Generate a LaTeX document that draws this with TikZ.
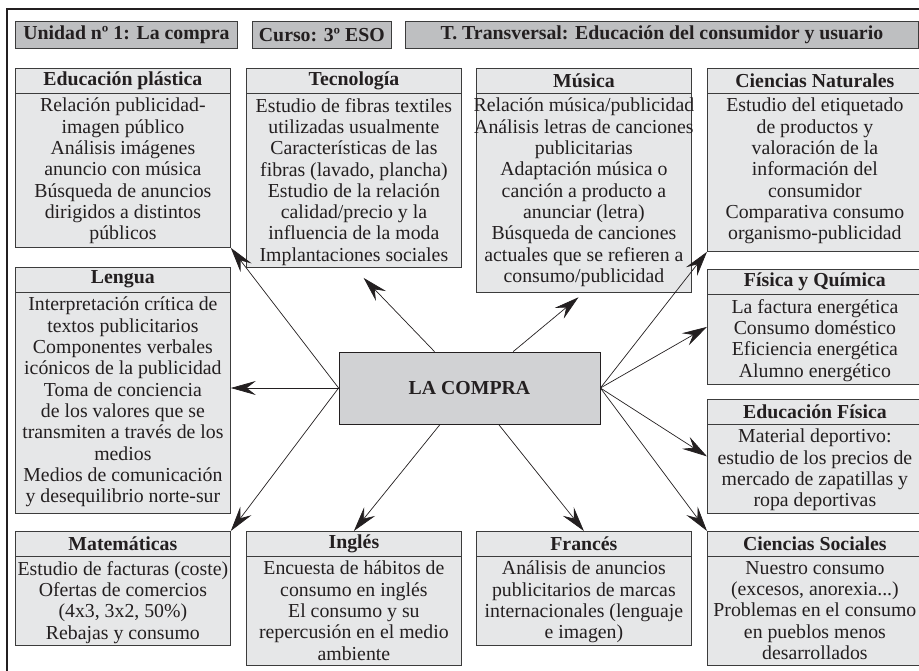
\documentclass[tikz,border=0pt]{standalone}
\usepackage{fontspec}
\setmainfont{Liberation Serif}
\usetikzlibrary{arrows.meta,calc}
\definecolor{ink}{RGB}{35,31,32}
\definecolor{hdrfill}{RGB}{190,191,193}
\definecolor{boxfill}{RGB}{230,231,232}
\definecolor{ctrfill}{RGB}{209,210,212}
\definecolor{edge}{RGB}{60,60,60}
\newcommand\fsz{\fontsize{19.8pt}{21.3pt}\selectfont}
\tikzset{
  frame/.style={draw=ink, line width=1.2pt},
  hdrbox/.style={draw=edge, fill=hdrfill, line width=0.8pt, anchor=north west, inner sep=0pt, font=\bfseries\fsz, text=ink},
  subjbox/.style={draw=edge, fill=boxfill, line width=0.8pt, anchor=north west, inner sep=0pt},
  ttl/.style={font=\bfseries\fsz, inner sep=0pt, text=ink},
  bodytxt/.style={font=\fsz, align=center, inner xsep=0pt, inner ysep=5pt, anchor=north, text=ink},
  ctrbox/.style={draw=ink, fill=ctrfill, line width=0.8pt, inner sep=0pt, font=\bfseries\fsz, text=ink},
  arr/.style={draw=ink, line width=0.7pt, -{Stealth[length=25pt,width=14pt,inset=9pt]}},
}
\newcommand\mkbox[8][]{%
  \node[subjbox, minimum width=#5pt, minimum height=#6pt] (#2) at (#3,#4) {};
  \draw[draw=edge, line width=0.8pt] ([yshift=-25pt]#2.north west) -- ([yshift=-25pt]#2.north east);
  \node[ttl] (#2-t) at ([yshift=-12.5pt]#2.north) {#7};
  \node[bodytxt,#1] (#2-b) at ([yshift=-25pt]#2.north) {#8};
}
\begin{document}
\begin{tikzpicture}[x=1pt,y=-1pt]
\useasboundingbox (0,0) rectangle (919,671);
\coordinate (fa) at (919,9);
\coordinate (fb) at (7,9);
\coordinate (fc) at (7,671);
\draw[frame] (fa) -- (fb) -- (fc);

\node[hdrbox, minimum width=222pt, minimum height=27pt] (h1) at (15,21) {Unidad nº 1: La compra};
\node[hdrbox, minimum width=139pt, minimum height=27pt] (h2) at (252,21) {Curso: 3º ESO};
\node[hdrbox, minimum width=513pt, minimum height=27pt] (h3) at (405,21) {T. Transversal: Educación del consumidor y usuario};

\mkbox{ep}{15}{68}{215}{179}{Educación plástica}{Relación publicidad-\\imagen público\\Análisis imágenes\\anuncio con música\\Búsqueda de anuncios\\dirigidos a distintos\\públicos}
\mkbox{tec}{246}{68}{215}{199}{Tecnología}{Estudio de fibras textiles\\utilizadas usualmente\\Características de las\\fibras (lavado, plancha)\\Estudio de la relación\\calidad/precio y la\\influencia de la moda\\Implantaciones sociales}
\mkbox{mus}{476}{68}{215}{224}{Música}{Relación música/publicidad\\Análisis letras de canciones\\publicitarias\\Adaptación música o\\canción a producto a\\anunciar (letra)\\Búsqueda de canciones\\actuales que se refieren a\\consumo/publicidad}
\mkbox{cn}{707}{68}{215}{183}{Ciencias Naturales}{Estudio del etiquetado\\de productos y\\valoración de la\\información del\\consumidor\\Comparativa consumo\\organismo-publicidad}
\mkbox{len}{15}{267}{215}{246}{Lengua}{Interpretación crítica de\\textos publicitarios\\Componentes verbales\\icónicos de la publicidad\\Toma de conciencia\\de los valores que se\\transmiten a través de los\\medios\\Medios de comunicación\\y desequilibrio norte-sur}
\mkbox{fq}{707}{269}{215}{115}{Física y Química}{La factura energética\\Consumo doméstico\\Eficiencia energética\\Alumno energético}
\mkbox{ef}{707}{399}{215}{114}{Educación Física}{Material deportivo:\\estudio de los precios de\\mercado de zapatillas y\\ropa deportivas}
\mkbox{mat}{15}{531}{215}{114}{Matemáticas}{Estudio de facturas (coste)\\Ofertas de comercios\\(4x3, 3x2, 50\%)\\Rebajas y consumo}
\mkbox{ing}{246}{531}{215}{134}{Inglés}{Encuesta de hábitos de\\consumo en inglés\\El consumo y su\\repercusión en el medio\\ambiente}
\mkbox{fr}{476}{531}{215}{114}{Francés}{Análisis de anuncios\\publicitarios de marcas\\internacionales (lenguaje\\e imagen)}
\mkbox{cs}{707}{531}{215}{134}{Ciencias Sociales}{Nuestro consumo\\(excesos, anorexia...)\\Problemas en el consumo\\en pueblos menos\\desarrollados}

\node[ctrbox, minimum width=261pt, minimum height=72pt] (lc) at (469.5,388) {LA COMPRA};

\draw[arr] (lc.west) -- (ep.south east);
\draw[arr, shorten >=14pt] (lc) -- (tec.south);
\draw[arr, shorten >=7pt] (lc) -- (mus.south);
\draw[arr] (lc.east) -- (cn.south west);
\draw[arr] (lc.east) -- (fq.west);
\draw[arr] (lc.east) -- (ef.west);
\draw[arr] (lc.east) -- (cs.north west);
\draw[arr] (lc) -- (fr.north);
\draw[arr] (lc) -- (ing.north);
\draw[arr] (lc.west) -- (mat.north east);
\draw[arr] (lc.west) -- (lc.west -| len.east);
\end{tikzpicture}
\end{document}
